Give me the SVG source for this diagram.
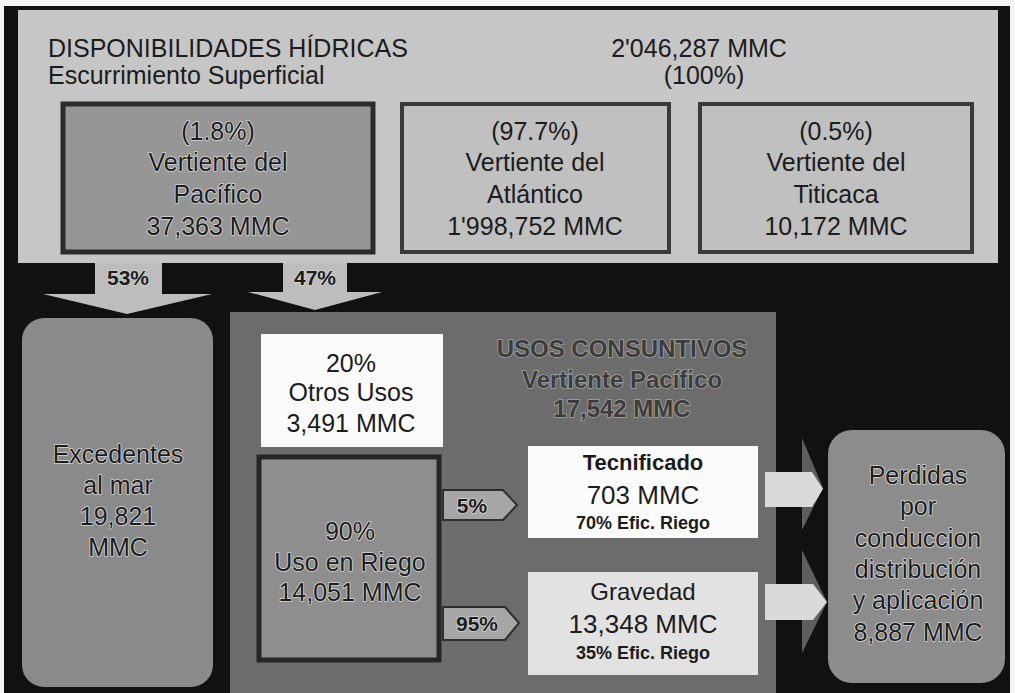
<svg xmlns="http://www.w3.org/2000/svg" width="1015" height="693" viewBox="0 0 1015 693">
  <style>
    text { font-family: "Liberation Sans", Arial, sans-serif; text-anchor: middle; fill: #1c1c1c; }
    .hdr { text-anchor: start; font-size: 25px; }
    .big { font-size: 25px; }
    .halo { paint-order: stroke; stroke: #d6d6d6; stroke-width: 1.6px; stroke-linejoin: round; }
    .usos { font-size: 24px; font-weight: bold; fill: #3c3c3c; paint-order: stroke; stroke: #a4a4a4; stroke-width: 1.6px; }
    .pct { font-size: 21px; font-weight: bold; }
    .bold { font-weight: bold; }
    .small { font-size: 18px; font-weight: bold; }
  </style>

  <rect x="0" y="0" width="1015" height="693" fill="#f4f4f4"/>
  <rect x="4" y="6" width="1006" height="687" fill="#111111"/>

  <g id="disponibilidades">
    <rect x="18" y="10" width="980" height="253" fill="#c6c6c6"/>
    <text class="hdr" x="48" y="57">DISPONIBILIDADES HÍDRICAS</text>
    <text class="hdr" x="48" y="84">Escurrimiento Superficial</text>
    <text class="big" x="699" y="57">2'046,287 MMC</text>
    <text class="big" x="704" y="84">(100%)</text>
  </g>

  <g id="pacifico">
    <rect x="63" y="104" width="310" height="148" fill="#969696" stroke="#2b2b2b" stroke-width="5"/>
    <text class="big halo" x="218" y="140">(1.8%)</text>
    <text class="big halo" x="218" y="171">Vertiente del</text>
    <text class="big halo" x="218" y="203">Pacífico</text>
    <text class="big halo" x="218" y="235">37,363 MMC</text>
  </g>

  <g id="atlantico">
    <rect x="402" y="104" width="267" height="148" fill="#c0c0c0" stroke="#3a3a3a" stroke-width="4"/>
    <text class="big" x="535" y="140">(97.7%)</text>
    <text class="big" x="535" y="171">Vertiente del</text>
    <text class="big" x="535" y="203">Atlántico</text>
    <text class="big" x="535" y="235">1'998,752 MMC</text>
  </g>

  <g id="titicaca">
    <rect x="700" y="104" width="272" height="148" fill="#c0c0c0" stroke="#3a3a3a" stroke-width="4"/>
    <text class="big" x="836" y="140">(0.5%)</text>
    <text class="big" x="836" y="171">Vertiente del</text>
    <text class="big" x="836" y="203">Titicaca</text>
    <text class="big" x="836" y="235">10,172 MMC</text>
  </g>

  <g id="excedentes">
    <rect x="22" y="318" width="191" height="369" rx="22" fill="#8a8a8a"/>
    <text class="big halo" x="118" y="463">Excedentes</text>
    <text class="big halo" x="118" y="494">al mar</text>
    <text class="big halo" x="118" y="525">19,821</text>
    <text class="big halo" x="118" y="556">MMC</text>
  </g>

  <g id="usos-consuntivos">
    <rect x="230" y="312" width="546" height="381" fill="#6c6c6c"/>
    <text class="usos" x="622" y="357">USOS CONSUNTIVOS</text>
    <text class="usos" x="622" y="388">Vertiente Pacífico</text>
    <text class="usos" x="622" y="417">17,542 MMC</text>
  </g>

  <g id="otros-usos">
    <rect x="261" y="334" width="182" height="113" fill="#fbfbfb"/>
    <text class="big" x="351" y="372">20%</text>
    <text class="big" x="351" y="401">Otros Usos</text>
    <text class="big" x="351" y="432">3,491 MMC</text>
  </g>

  <g id="uso-riego">
    <rect x="259" y="457" width="180" height="203" fill="#8e8e8e" stroke="#262626" stroke-width="5"/>
    <text class="big halo" x="350" y="540">90%</text>
    <text class="big halo" x="350" y="571">Uso en Riego</text>
    <text class="big halo" x="350" y="601">14,051 MMC</text>
  </g>

  <g id="tecnificado">
    <rect x="528" y="446" width="230" height="92" fill="#fcfcfc"/>
    <text class="bold" x="643" y="470" font-size="22">Tecnificado</text>
    <text x="643" y="504" font-size="26">703 MMC</text>
    <text class="small" x="643" y="529">70% Efic. Riego</text>
  </g>

  <g id="gravedad">
    <rect x="528" y="572" width="230" height="103" fill="#e2e2e2"/>
    <text x="643" y="600" font-size="24">Gravedad</text>
    <text x="643" y="633" font-size="26">13,348 MMC</text>
    <text class="small" x="643" y="659">35% Efic. Riego</text>
  </g>

  <g id="perdidas">
    <rect x="828" y="430" width="177" height="253" rx="24" fill="#8c8c8c"/>
    <text class="big halo" x="918" y="484">Perdidas</text>
    <text class="big halo" x="918" y="515">por</text>
    <text class="big halo" x="918" y="547">conduccion</text>
    <text class="big halo" x="918" y="578">distribución</text>
    <text class="big halo" x="918" y="609">y aplicación</text>
    <text class="big halo" x="918" y="641">8,887 MMC</text>
  </g>

  <g id="connectors">
    <polygon points="95,263 162,263 162,294 212,294 127,314 43,294 95,294" fill="#bdbdbd"/>
    <text class="pct halo" x="128" y="285">53%</text>
    <polygon points="283,263 347,263 347,292 382,292 315,310 248,292 283,292" fill="#bdbdbd"/>
    <text class="pct halo" x="315" y="285">47%</text>

    <polygon points="443,490 503,490 517,505 503,520 443,520" fill="#a6a6a6" stroke="#2e2e2e" stroke-width="2"/>
    <text class="pct halo" x="472" y="513" font-size="20">5%</text>
    <polygon points="443,607 505,607 519,623 505,640 443,640" fill="#a6a6a6" stroke="#2e2e2e" stroke-width="2"/>
    <text class="pct halo" x="477" y="631" font-size="20">95%</text>

    <polygon points="802,438 823,488 802,530" fill="#5e5e5e"/>
    <polygon points="765,472 812,472 823,489 812,507 765,507" fill="#dadada"/>
    <polygon points="802,550 827,602 802,653" fill="#5e5e5e"/>
    <polygon points="765,584 813,584 827,602 813,620 765,620" fill="#dadada"/>
  </g>
</svg>
